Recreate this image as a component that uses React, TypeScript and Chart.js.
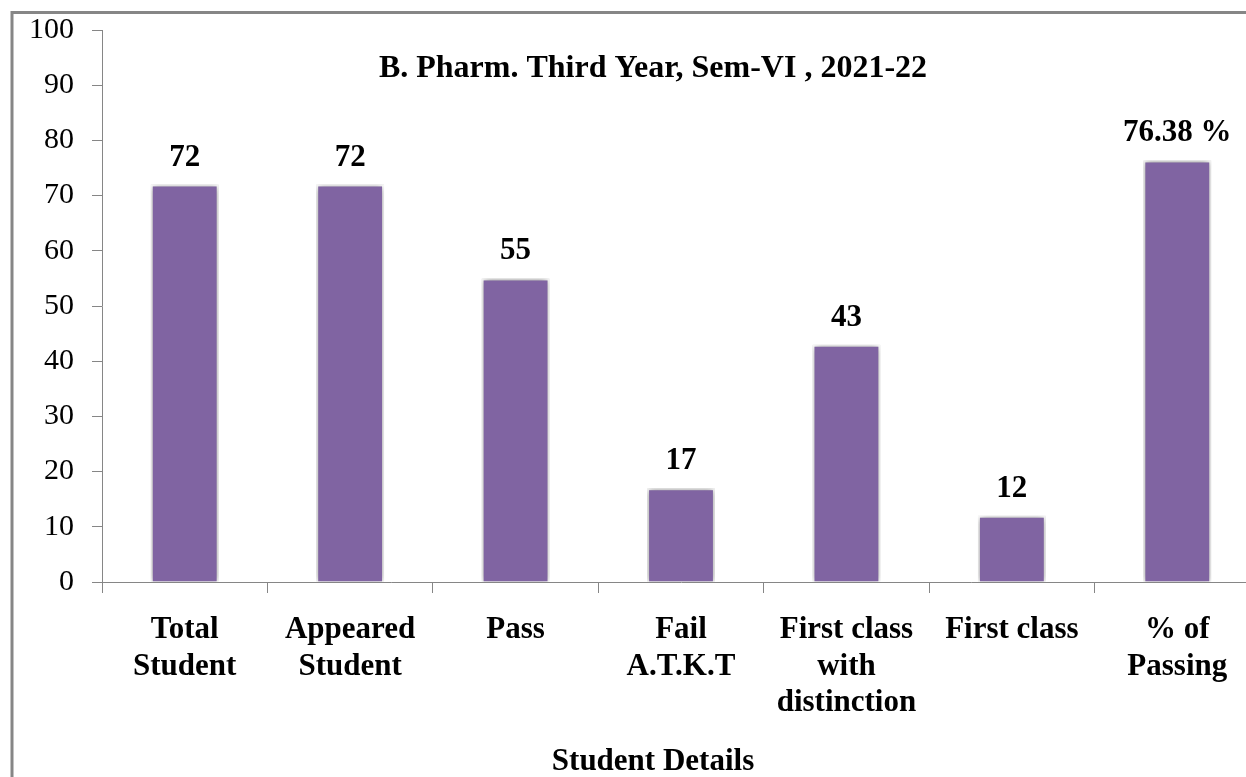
import React, { useEffect, useRef } from "react";
import { Chart, registerables } from "chart.js";

Chart.register(...registerables);

const categories: string[][] = [
  ["Total", "Student"],
  ["Appeared", "Student"],
  ["Pass"],
  ["Fail", "A.T.K.T"],
  ["First class", "with", "distinction"],
  ["First class"],
  ["% of", "Passing"],
];
const values: number[] = [72, 72, 55, 17, 43, 12, 76.38];
const valueLabels: string[] = ["72", "72", "55", "17", "43", "12", "76.38 %"];
const yMin = 0;
const yMax = 100;
const yStep = 10;
const chartTitle = "B. Pharm. Third Year, Sem-VI , 2021-22";
const xAxisTitle = "Student Details";

const FONT = "'Liberation Serif', 'Times New Roman', serif";
const W = 1300;
const H = 777;

const frameAndTitles = {
  id: "frameAndTitles",
  beforeDraw(chart: any) {
    const ctx = chart.ctx;
    ctx.save();
    ctx.fillStyle = "#ffffff";
    ctx.fillRect(0, 0, chart.width, chart.height);
    ctx.strokeStyle = "#868686";
    ctx.lineWidth = 3;
    ctx.strokeRect(12, 12.5, 3000, 3000);
    ctx.restore();
  },
  afterDraw(chart: any) {
    const ctx = chart.ctx;
    ctx.save();
    ctx.fillStyle = "#000";
    ctx.textAlign = "center";
    ctx.textBaseline = "alphabetic";
    ctx.font = `bold 32px ${FONT}`;
    ctx.fillText(chartTitle, 653, 77);
    ctx.font = `bold 31px ${FONT}`;
    ctx.fillText(xAxisTitle, 653, 770);
    ctx.restore();
  },
};

const barShadow = {
  id: "barShadow",
  beforeDatasetDraw(chart: any) {
    const ctx = chart.ctx;
    ctx.save();
    ctx.shadowColor = "rgba(0,0,0,0.45)";
    ctx.shadowBlur = 7;
    ctx.shadowOffsetX = 0;
    ctx.shadowOffsetY = 0;
  },
  afterDatasetDraw(chart: any) {
    chart.ctx.restore();
  },
};

const valueLabelPlugin = {
  id: "valueLabelPlugin",
  afterDatasetsDraw(chart: any) {
    const ctx = chart.ctx;
    const meta = chart.getDatasetMeta(0);
    ctx.save();
    ctx.fillStyle = "#000";
    ctx.font = `bold 31px ${FONT}`;
    ctx.textAlign = "center";
    ctx.textBaseline = "alphabetic";
    meta.data.forEach((el: any, i: number) => {
      ctx.fillText(valueLabels[i], el.x, el.y - 19);
    });
    ctx.restore();
  },
};

export default function App() {
  const ref = useRef<HTMLCanvasElement | null>(null);
  useEffect(() => {
    if (!ref.current) return;
    const chart = new Chart(ref.current, {
      type: "bar",
      data: {
        labels: categories,
        datasets: [
          {
            data: values,
            backgroundColor: "#8064A2",
            borderColor: "#ffffff",
            borderWidth: 2,
            borderSkipped: "bottom",
            categoryPercentage: 1,
            barPercentage: 0.41,
          },
        ],
      },
      options: {
        responsive: false,
        animation: false,
        layout: { padding: { left: 12, top: 30, right: 40, bottom: 0 } },
        plugins: {
          legend: { display: false },
          title: { display: false },
          tooltip: { enabled: false },
        },
        scales: {
          x: {
            grid: {
              display: true,
              offset: true,
              drawOnChartArea: false,
              drawTicks: true,
              tickLength: 11,
              color: "#868686",
            },
            border: { display: true, color: "#868686", width: 1 },
            ticks: {
              color: "#000",
              padding: 19,
              maxRotation: 0,
              autoSkip: false,
              font: { family: FONT, size: 31, weight: "bold", lineHeight: 1.18 },
            },
            afterFit: (s: any) => {
              s.height = 195;
            },
          },
          y: {
            min: yMin,
            max: yMax,
            grid: {
              display: true,
              drawOnChartArea: false,
              drawTicks: true,
              tickLength: 10,
              color: "#868686",
            },
            border: { display: true, color: "#868686", width: 1 },
            ticks: {
              stepSize: yStep,
              color: "#000",
              padding: 18,
              font: { family: FONT, size: 30, lineHeight: 1 },
            },
            afterFit: (s: any) => {
              s.width = 90;
              s.paddingTop = 0;
              s.paddingBottom = 0;
            },
          },
        },
      },
      plugins: [frameAndTitles, barShadow, valueLabelPlugin],
    } as any);
    return () => chart.destroy();
  }, []);

  return (
    <div
      style={{
        position: "fixed",
        left: 0,
        top: 0,
        width: 1246,
        height: 777,
        overflow: "hidden",
        background: "#fff",
      }}
    >
      <canvas
        ref={ref}
        width={W}
        height={H}
        style={{ display: "block", width: W, height: H }}
      />
    </div>
  );
}
